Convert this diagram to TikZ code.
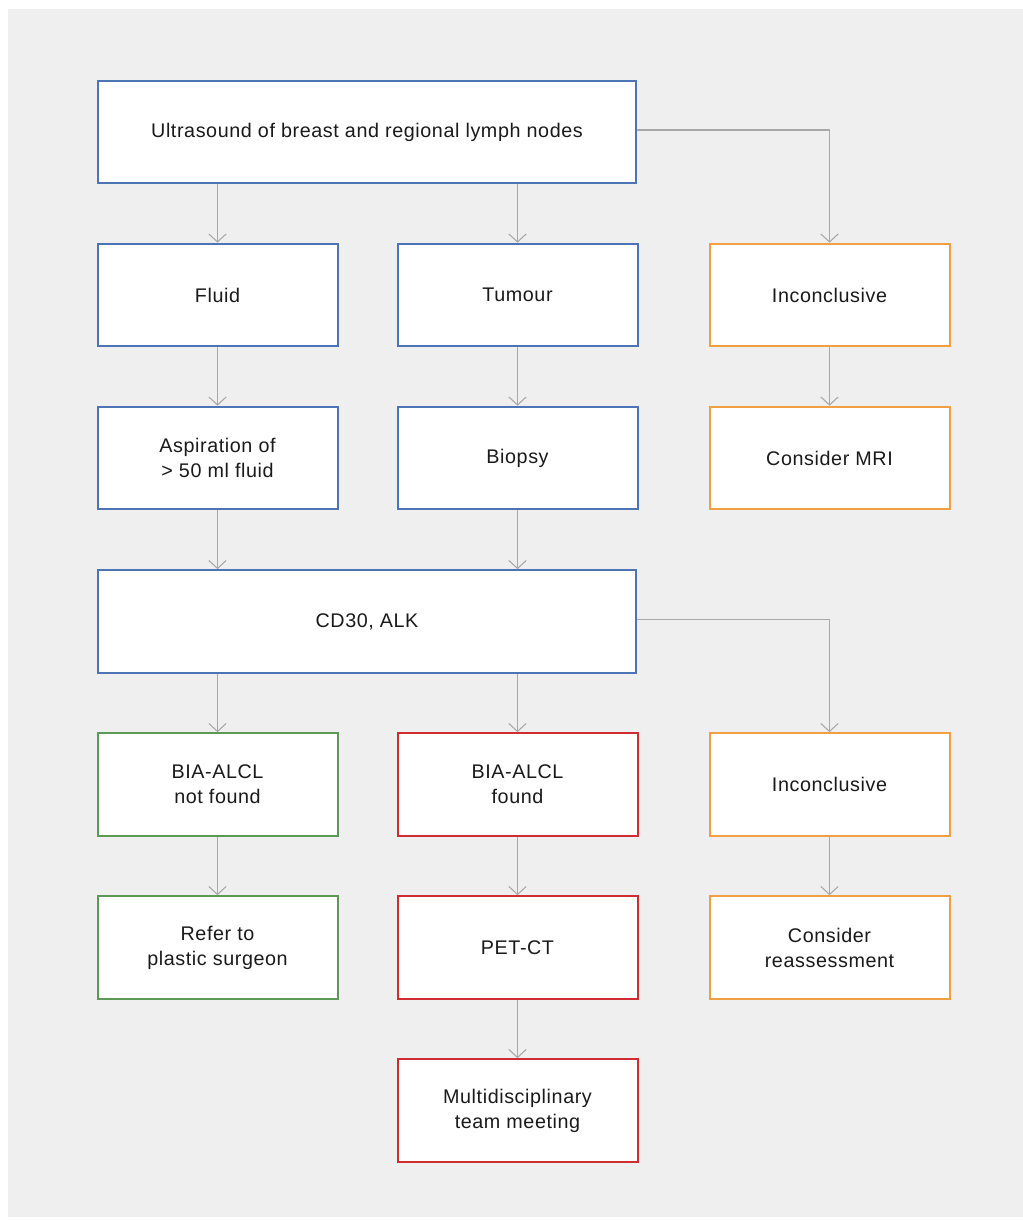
\documentclass[tikz,border=0pt]{standalone}
\usepackage{fontspec}
\setmainfont{Liberation Sans}
\usepackage{tikz}
\usetikzlibrary{positioning, arrows.meta, calc}

\definecolor{boxblue}{HTML}{4E74B8}
\definecolor{boxorange}{HTML}{F0A040}
\definecolor{boxgreen}{HTML}{5A9A55}
\definecolor{boxred}{HTML}{D02C34}
\definecolor{linegray}{HTML}{A8A8A8}
\definecolor{bggray}{HTML}{EFEFEF}
\definecolor{textdark}{HTML}{1A1A1A}

\begin{document}
\begin{tikzpicture}[x=0.75pt, y=-0.75pt,
    box/.style={draw, line width=1.5pt, fill=white, align=center, text=textdark,
        minimum width=180pt, minimum height=77pt, inner sep=0pt,
        font=\fontsize{14.8}{18.75}\selectfont\addfontfeatures{LetterSpace=3}},
    widebox/.style={box, minimum width=404pt},
    conn/.style={draw=linegray, line width=0.8pt, -{Straight Barb[length=6pt, width=13pt]}}]
    % Background
    \useasboundingbox (0,0) rectangle (1023,1220);
    \fill [bggray] (8,9) rectangle (1023,1217);

    % Imaging
    \node [widebox, draw=boxblue] (us) at (367,132) {Ultrasound of breast and regional lymph nodes};
    \node [box, draw=boxblue] (fluid) at (217.5,295) {Fluid};
    \node [box, draw=boxblue] (tumour) at (517.5,295) {Tumour};
    \node [box, draw=boxorange] (inc1) at (829.5,295) {Inconclusive};
    \node [box, draw=boxblue] (asp) at (217.5,458) {Aspiration of\\> 50 ml fluid};
    \node [box, draw=boxblue] (biopsy) at (517.5,458) {Biopsy};
    \node [box, draw=boxorange] (mri) at (829.5,458) {Consider MRI};

    % Pathology
    \node [widebox, draw=boxblue] (cd) at (367,621.5) {CD30, ALK};
    \node [box, draw=boxgreen] (notfound) at (217.5,784.5) {BIA-ALCL\\not found};
    \node [box, draw=boxred] (found) at (517.5,784.5) {BIA-ALCL\\found};
    \node [box, draw=boxorange] (inc2) at (829.5,784.5) {Inconclusive};
    \node [box, draw=boxgreen] (refer) at (217.5,947.5) {Refer to\\plastic surgeon};
    \node [box, draw=boxred] (pet) at (517.5,947.5) {PET-CT};
    \node [box, draw=boxorange] (reass) at (829.5,947.5) {Consider\\reassessment};
    \node [box, draw=boxred] (mdt) at (517.5,1110.5) {Multidisciplinary\\team meeting};

    % Connectors
    \draw [conn] (us.south -| fluid.north) -- (fluid.north);
    \draw [conn] (us.south -| tumour.north) -- (tumour.north);
    \draw [conn] ([yshift=1.5pt]us.east) -| (inc1.north);
    \draw [conn] (fluid) -- (asp);
    \draw [conn] (tumour) -- (biopsy);
    \draw [conn] (inc1) -- (mri);
    \draw [conn] (asp.south) -- (asp.south |- cd.north);
    \draw [conn] (biopsy.south) -- (biopsy.south |- cd.north);
    \draw [conn] (cd.south -| notfound.north) -- (notfound.north);
    \draw [conn] (cd.south -| found.north) -- (found.north);
    \draw [conn] ([yshift=1.5pt]cd.east) -| (inc2.north);
    \draw [conn] (notfound) -- (refer);
    \draw [conn] (found) -- (pet);
    \draw [conn] (inc2) -- (reass);
    \draw [conn] (pet) -- (mdt);
\end{tikzpicture}
\end{document}
